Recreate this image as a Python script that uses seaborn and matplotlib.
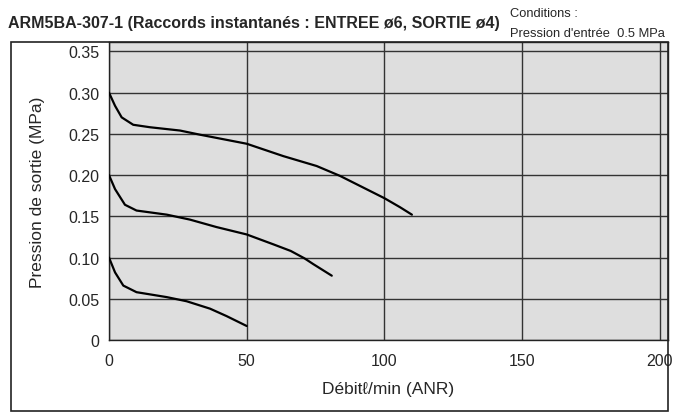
import numpy as np
import pandas as pd
import matplotlib.pyplot as plt
import seaborn as sns
from matplotlib.patches import Rectangle

# courbes (debit l/min, pression MPa)
debit_030 = [0, 2.2, 4.6, 8.8, 14.9, 25.8, 33, 50, 63.3, 75.4, 83.9, 100, 105.7, 110]
press_030 = [0.300, 0.284, 0.270, 0.261, 0.258, 0.254, 0.249, 0.238, 0.223, 0.211, 0.199, 0.172, 0.161, 0.152]

debit_020 = [0, 2.2, 5.8, 10, 21, 29.4, 39, 50, 59.7, 66, 71, 74.2, 80.9]
press_020 = [0.200, 0.183, 0.164, 0.157, 0.152, 0.146, 0.137, 0.128, 0.116, 0.108, 0.099, 0.092, 0.078]

debit_010 = [0, 2.2, 5.2, 10, 21, 28.2, 36.7, 42.7, 50]
press_010 = [0.100, 0.082, 0.066, 0.058, 0.052, 0.047, 0.038, 0.029, 0.017]

xticks = [0, 50, 100, 150, 200]
yticks = [0, 0.05, 0.10, 0.15, 0.20, 0.25, 0.30, 0.35]
ytick_labels = ['0', '0.05', '0.10', '0.15', '0.20', '0.25', '0.30', '0.35']

sns.set_style('white')
plt.rcParams['font.family'] = ['Liberation Sans', 'DejaVu Sans']

fig = plt.figure(figsize=(6.85, 4.14), dpi=100)
ax = fig.add_axes([0.1591, 0.1763, 0.8161, 0.7191])
ax.set_facecolor('#dedede')

for d, p in [(debit_030, press_030), (debit_020, press_020), (debit_010, press_010)]:
    df = pd.DataFrame({'debit': d, 'pression': p})
    sns.lineplot(data=df, x='debit', y='pression', sort=False, color='black', lw=1.6, ax=ax, zorder=3)

ax.set_xlim(0, 203)
ax.set_ylim(0, 0.361)
ax.set_xticks(xticks)
ax.set_yticks(yticks)
ax.set_yticklabels(ytick_labels)
ax.grid(True, color='#333333', lw=1)
ax.tick_params(length=0, labelsize=11.5)
ax.tick_params(axis='x', pad=9)
ax.tick_params(axis='y', pad=7)
for s in ax.spines.values():
    s.set_color('#222222')
    s.set_linewidth(1)

ax.set_xlabel('Débitℓ/min (ANR)', fontsize=12.5, labelpad=10)
ax.set_ylabel('Pression de sortie (MPa)', fontsize=12.5, labelpad=17)

# cadre autour du graphique
fig.patches.append(Rectangle((0.0161, 0.0056), 0.9591, 0.8899, transform=fig.transFigure,
                             fill=False, edgecolor='#222222', lw=1.2, zorder=0))

fig.text(0.012, 0.932, 'ARM5BA-307-1 (Raccords instantanés : ENTREE ø6, SORTIE ø4)',
         fontsize=11.5, fontweight='bold', va='baseline', ha='left')
fig.text(0.745, 0.959, 'Conditions :', fontsize=9.3, va='baseline', ha='left')
fig.text(0.745, 0.911, "Pression d'entrée  0.5 MPa", fontsize=9.3, va='baseline', ha='left')

fig.savefig('out.png', dpi=100)
